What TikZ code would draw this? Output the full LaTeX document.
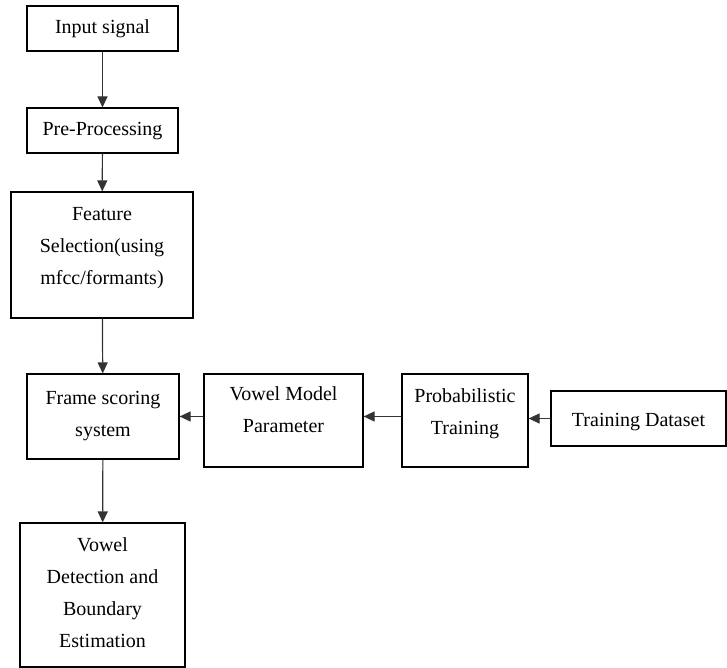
\documentclass[tikz,border=0pt]{standalone}
\usepackage{fontspec}
\setmainfont{Liberation Serif}
\usetikzlibrary{arrows.meta}
\begin{document}
\begin{tikzpicture}[x=1pt,y=-1pt,
  box/.style={draw=black,line width=1.2pt,rectangle,inner sep=0pt},
  txt/.style={align=center,inner sep=0pt,font=\fontsize{20}{32}\selectfont},
  arr/.style={draw=black!80,line width=1.2pt,-{Triangle[length=11pt,width=10pt]}}]
\useasboundingbox (0,0) rectangle (727,668);
% boxes
\node[box,minimum width=151,minimum height=45] (in) at (102.5,28.5) {};
\node[box,minimum width=151,minimum height=45] (pre) at (102.5,130.5) {};
\node[box,minimum width=182,minimum height=126] (feat) at (102,255) {};
\node[box,minimum width=152,minimum height=85] (frame) at (103,416.5) {};
\node[box,minimum width=159,minimum height=93] (vmp) at (283.5,420.5) {};
\node[box,minimum width=126,minimum height=93] (prob) at (465,420.5) {};
\node[box,minimum width=175,minimum height=55] (td) at (638.5,418.5) {};
\node[box,minimum width=165,minimum height=144] (vd) at (102.5,595) {};
% texts
\node[txt] (inT) at (in.center) {Input signal};
\node[txt] (preT) at ([yshift=-1]pre.center) {Pre-Processing};
\node[txt] (featT) at ([yshift=6.5]feat.center) {Feature\\Selection(using\\mfcc/formants)};
\node[txt] (frameT) at (frame.center) {Frame scoring\\system};
\node[txt] (vmpT) at ([yshift=10.5]vmp.center) {Vowel Model\\Parameter};
\node[txt] (probT) at ([yshift=6.5]prob.center) {Probabilistic\\Training};
\node[txt] (tdT) at ([yshift=-4]td.center) {Training Dataset};
\node[txt] (vdT) at ([yshift=2.5]vd.center) {Vowel\\Detection and\\Boundary\\Estimation};
% connectors
\draw[arr] (in) -- (pre);
\draw[arr] (pre) -- (feat);
\draw[arr] (feat) -- (frame);
\draw[arr] (frame) -- (vd);
\draw[arr] (vmp.west |- frame.east) -- (frame.east);
\draw[arr] (prob.west |- frame.east) -- (vmp.east |- frame.east);
\draw[arr] (td.west) -- (prob.east |- td.west);
\end{tikzpicture}
\end{document}
